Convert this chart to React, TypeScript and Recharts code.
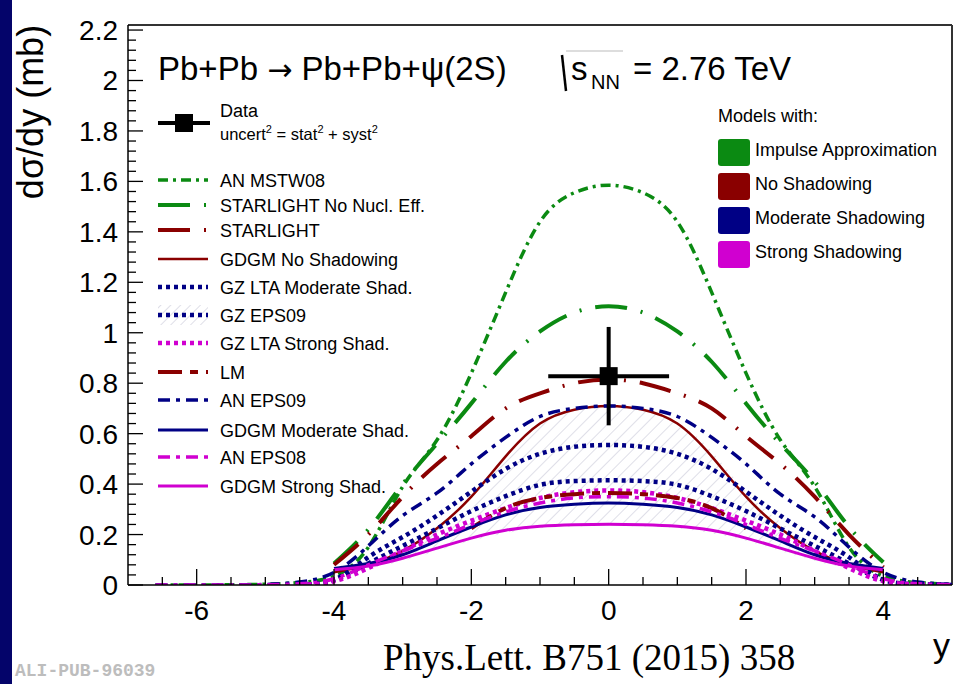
import React from "react";
import { ComposedChart, Line, Area, Scatter, ErrorBar, XAxis, YAxis, ReferenceLine } from "recharts";

const FONT = "'Liberation Sans', Arial, Helvetica, sans-serif";
const GREEN = "#0b8a12";
const RED = "#8a0000";
const NAVY = "#000085";
const MAGENTA = "#d000d0";

const _ = null;

// rapidity grid
const rapidity = [-6.6, -6, -5.5, -5, -4.5, -4, -3.5, -3, -2.5, -2, -1.5, -1, -0.5, 0, 0.5, 1, 1.5, 2, 2.5, 3, 3.5, 4, 4.5, 5];

// dsigma/dy (mb) per model
const anMstw08 = [0, 0, 0.001, 0.003, 0.01, 0.035, 0.15, 0.39, 0.575, 0.84, 1.16, 1.44, 1.555, 1.585, 1.555, 1.44, 1.16, 0.84, 0.575, 0.39, 0.15, 0.035, 0.01, 0.002];
const starlightNoNucl = [_, _, _, _, _, 0.085, 0.22, 0.4, 0.56, 0.72, 0.885, 1.005, 1.08, 1.105, 1.08, 1.005, 0.885, 0.72, 0.56, 0.41, 0.23, 0.09, _, _];
const starlight = [_, _, _, _, _, 0.08, 0.2, 0.35, 0.48, 0.59, 0.7, 0.76, 0.8, 0.815, 0.8, 0.76, 0.7, 0.59, 0.48, 0.35, 0.2, 0.07, _, _];
const gdgmNoShad = [_, _, _, _, _, 0.05, 0.08, 0.135, 0.225, 0.35, 0.51, 0.64, 0.695, 0.71, 0.695, 0.64, 0.51, 0.35, 0.225, 0.135, 0.08, 0.05, _, _];
const gzLtaModerate = [_, _, _, _, 0, 0.02, 0.11, 0.19, 0.275, 0.37, 0.46, 0.52, 0.548, 0.555, 0.548, 0.52, 0.46, 0.37, 0.275, 0.19, 0.11, 0.02, 0.003, 0];
const gzEps09 = [_, _, _, _, 0, 0.02, 0.085, 0.155, 0.224, 0.293, 0.352, 0.397, 0.412, 0.415, 0.412, 0.397, 0.352, 0.293, 0.224, 0.155, 0.085, 0.02, 0.003, 0];
const gzLtaStrong = [_, _, _, _, 0, 0.015, 0.067, 0.135, 0.2, 0.255, 0.305, 0.345, 0.368, 0.375, 0.368, 0.345, 0.305, 0.255, 0.2, 0.135, 0.067, 0.015, 0.003, 0];
const lm = [_, _, _, _, _, _, _, _, _, 0.225, 0.305, 0.345, 0.36, 0.365, 0.36, 0.345, 0.305, 0.225, _, _, _, _, _, _];
const anEps09 = [0, 0, 0, 0.002, 0.012, 0.05, 0.155, 0.275, 0.365, 0.48, 0.585, 0.668, 0.7, 0.71, 0.7, 0.668, 0.585, 0.48, 0.36, 0.27, 0.15, 0.05, 0.012, 0.002];
const gdgmModerate = [_, _, _, _, _, 0.065, 0.085, 0.12, 0.175, 0.23, 0.278, 0.307, 0.32, 0.325, 0.32, 0.307, 0.278, 0.23, 0.175, 0.12, 0.085, 0.065, _, _];
const anEps08 = [0, 0, 0, 0.001, 0.005, 0.025, 0.08, 0.135, 0.185, 0.24, 0.29, 0.325, 0.345, 0.35, 0.345, 0.325, 0.29, 0.24, 0.185, 0.135, 0.08, 0.025, 0.005, 0.001];
const gdgmStrong = [_, _, _, _, _, 0.06, 0.075, 0.106, 0.146, 0.186, 0.217, 0.233, 0.239, 0.241, 0.239, 0.233, 0.217, 0.186, 0.146, 0.106, 0.075, 0.06, _, _];

// GZ EPS09 uncertainty band (hatched)
const bandLow = [_, _, _, _, _, 0.045, 0.065, 0.095, 0.135, 0.175, 0.205, 0.225, 0.232, 0.235, 0.232, 0.225, 0.205, 0.175, 0.135, 0.095, 0.065, 0.045, _, _];
const bandHigh = [_, _, _, _, _, 0.05, 0.085, 0.15, 0.25, 0.37, 0.53, 0.645, 0.697, 0.71, 0.697, 0.645, 0.53, 0.37, 0.25, 0.15, 0.085, 0.05, _, _];

// ALICE measurement
const dataPoint = [{ x: 0, y: 0.828, ex: 0.88, ey: 0.195 }];

const Y_MAJOR = [0, 0.2, 0.4, 0.6, 0.8, 1, 1.2, 1.4, 1.6, 1.8, 2, 2.2];
const X_MAJOR = [-6, -4, -2, 0, 2, 4];

const SERIES = [
  { key: "anMstw08", name: "AN MSTW08", values: anMstw08, color: GREEN, width: 3.5, dash: "10 5 3 5" },
  { key: "starlightNoNucl", name: "STARLIGHT No Nucl. Eff.", values: starlightNoNucl, color: GREEN, width: 4, dash: "32 14 2 14" },
  { key: "starlight", name: "STARLIGHT", values: starlight, color: RED, width: 4, dash: "32 14 2 14" },
  { key: "gdgmNoShad", name: "GDGM No Shadowing", values: gdgmNoShad, color: RED, width: 2.5 },
  { key: "gzLtaModerate", name: "GZ LTA Moderate Shad.", values: gzLtaModerate, color: NAVY, width: 4.5, dash: "4 4" },
  { key: "gzEps09", name: "GZ EPS09", values: gzEps09, color: NAVY, width: 4.5, dash: "4 4", hatch: true },
  { key: "gzLtaStrong", name: "GZ LTA Strong Shad.", values: gzLtaStrong, color: MAGENTA, width: 4.5, dash: "4 4" },
  { key: "lm", name: "LM", values: lm, color: RED, width: 4, dash: "24 8 8 8" },
  { key: "anEps09", name: "AN EPS09", values: anEps09, color: NAVY, width: 3.5, dash: "12 6 4 6" },
  { key: "gdgmModerate", name: "GDGM Moderate Shad.", values: gdgmModerate, color: NAVY, width: 3 },
  { key: "anEps08", name: "AN EPS08", values: anEps08, color: MAGENTA, width: 3.5, dash: "12 6 4 6" },
  { key: "gdgmStrong", name: "GDGM Strong Shad.", values: gdgmStrong, color: MAGENTA, width: 3 },
];

const MODELS = [
  { name: "Impulse Approximation", color: GREEN },
  { name: "No Shadowing", color: RED },
  { name: "Moderate Shadowing", color: NAVY },
  { name: "Strong Shadowing", color: MAGENTA },
];

const table = rapidity.map((x, i) => {
  const row: any = { x };
  SERIES.forEach((s) => (row[s.key] = s.values[i]));
  row.band = bandLow[i] == null ? null : [bandLow[i], bandHigh[i]];
  return row;
});

const yTicks: number[] = [];
Y_MAJOR.forEach((m) => {
  for (let k = 0; k < 5; k++) {
    const v = Math.round((m + k * 0.04) * 100) / 100;
    if (v <= 2.21) yTicks.push(v);
  }
});
const xTicks: number[] = [];
for (let v = -6.5; v <= 4.5; v += 0.5) xTicks.push(v);

const isMajor = (list: number[], v: number) => list.some((m) => Math.abs(m - v) < 1e-6);

const YTick = (props: any) => {
  const { x, y, payload } = props;
  const v = payload.value;
  const major = isMajor(Y_MAJOR, v);
  return (
    <g>
      <line x1={x} x2={x + (major ? 15 : 8)} y1={y} y2={y} stroke="#000" strokeWidth={1.3} />
      {major && (
        <text x={x - 10} y={y} dy={10} textAnchor="end" fontSize={28} fill="#000" fontFamily={FONT}>
          {String(Math.round(v * 10) / 10)}
        </text>
      )}
    </g>
  );
};

const XTick = (props: any) => {
  const { x, y, payload } = props;
  const v = payload.value;
  const major = isMajor(X_MAJOR, v);
  return (
    <g>
      <line x1={x} x2={x} y1={y} y2={y - (major ? 16 : 8)} stroke="#000" strokeWidth={1.3} />
      {major && (
        <text x={x} y={y + 35} textAnchor="middle" fontSize={28} fill="#000" fontFamily={FONT}>
          {String(v)}
        </text>
      )}
    </g>
  );
};

const Square = (props: any) => <rect x={props.cx - 9} y={props.cy - 9} width={18} height={18} fill="#000" />;

function Overlay() {
  const rowY = [180, 205, 230, 259, 287, 315, 343, 372, 400, 430, 457, 486];
  const boxY = [139, 173, 207, 241];
  return (
    <svg width={972} height={684} style={{ position: "absolute", left: 0, top: 0, pointerEvents: "none" }} fontFamily={FONT}>
      {/* y axis title */}
      <text x={43} y={112} transform="rotate(-90 43 112)" textAnchor="middle" fontSize={36} fill="#000">
        dσ/dy (mb)
      </text>

      {/* title */}
      <text x={158} y={80} fontSize={33} fill="#000">
        Pb+Pb <tspan fontFamily="'DejaVu Sans', sans-serif" fontSize={30}>→</tspan> Pb+Pb+ψ(2S)
      </text>
      <path d="M562 55 L566 91" stroke="#000" strokeWidth={2.5} fill="none" />
      <path d="M566 51 L623 51" stroke="#bbb" strokeWidth={1} fill="none" />
      <text x={571} y={80} fontSize={33} fill="#000">s</text>
      <text x={591} y={89} fontSize={20} fill="#000">NN</text>
      <text x={633} y={80} fontSize={33} fill="#000">= 2.76 TeV</text>

      {/* data legend */}
      <line x1={158} x2={210} y1={123} y2={123} stroke="#000" strokeWidth={4} />
      <rect x={175} y={114} width={18} height={18} fill="#000" />
      <text x={220} y={117} fontSize={18} fill="#000">Data</text>
      <text x={220} y={140} fontSize={16.5} fill="#000">
        uncert<tspan fontSize={11} dy={-7}>2</tspan>
        <tspan dy={7}> = stat</tspan>
        <tspan fontSize={11} dy={-7}>2</tspan>
        <tspan dy={7}> + syst</tspan>
        <tspan fontSize={11} dy={-7}>2</tspan>
      </text>

      {/* model legend */}
      {SERIES.map((s, i) => (
        <g key={s.key}>
          {s.hatch && <rect x={158} y={rowY[i] - 10} width={50} height={20} fill="url(#hatchLegend)" />}
          <line x1={158} x2={208} y1={rowY[i]} y2={rowY[i]} stroke={s.color} strokeWidth={s.width} strokeDasharray={s.dash} />
          <text x={220} y={rowY[i] + 7} fontSize={18} fill="#000">{s.name}</text>
        </g>
      ))}

      <text x={718} y={122} fontSize={18} fill="#000">Models with:</text>
      {MODELS.map((m, i) => (
        <g key={m.name}>
          <rect x={718} y={boxY[i]} width={32} height={27} rx={3} fill={m.color} />
          <text x={755} y={boxY[i] + 17} fontSize={18} fill="#000">{m.name}</text>
        </g>
      ))}

      {/* x axis title and refs */}
      <text x={950} y={657} textAnchor="end" fontSize={34} fill="#000">y</text>
      <text x={383} y={670} fontSize={37} fill="#000" fontFamily="'Liberation Serif', 'Times New Roman', serif">
        Phys.Lett. B751 (2015) 358
      </text>
      <text x={15} y={676} fontSize={18} fontWeight="bold" fill="#bdbdbd" fontFamily="'Liberation Mono', 'DejaVu Sans Mono', monospace">
        ALI-PUB-96039
      </text>
    </svg>
  );
}

export default function App() {
  return (
    <div style={{ position: "absolute", left: 0, top: 0, width: 972, height: 684, background: "#fff", overflow: "hidden" }}>
      <svg width={0} height={0} style={{ position: "absolute" }}>
        <defs>
          <pattern id="hatch" patternUnits="userSpaceOnUse" width={9} height={9} patternTransform="rotate(45)">
            <line x1={0} y1={0} x2={0} y2={9} stroke="#c0c0d2" strokeWidth={1} />
          </pattern>
          <pattern id="hatchLegend" patternUnits="userSpaceOnUse" width={7} height={7} patternTransform="rotate(45)">
            <line x1={0} y1={0} x2={0} y2={7} stroke="#c0c0d2" strokeWidth={1} />
          </pattern>
        </defs>
      </svg>
      <div style={{ position: "absolute", left: 0, top: 0, width: 12, height: 684, background: "#04046a" }} />
      <div style={{ position: "absolute", left: 0, top: 0 }}>
        <ComposedChart width={972} height={684} data={table} margin={{ top: 25, right: 20, bottom: 69, left: 68 }}>
          <XAxis
            dataKey="x"
            type="number"
            domain={[-7, 5]}
            allowDataOverflow
            ticks={xTicks}
            interval={0}
            tick={<XTick />}
            tickLine={false}
            tickSize={0}
            tickMargin={0}
            height={30}
            axisLine={{ stroke: "#000", strokeWidth: 1.5 }}
          />
          <YAxis
            type="number"
            domain={[0, 2.22]}
            allowDataOverflow
            ticks={yTicks}
            interval={0}
            tick={<YTick />}
            tickLine={false}
            tickSize={0}
            tickMargin={0}
            width={60}
            axisLine={{ stroke: "#000", strokeWidth: 1.5 }}
          />
          <ReferenceLine y={2.22} stroke="#333" strokeWidth={2} />
          <ReferenceLine x={5} stroke="#333" strokeWidth={2} />
          <Area
            dataKey="band"
            type="natural"
            stroke="none"
            fill="url(#hatch)"
            fillOpacity={1}
            isAnimationActive={false}
            activeDot={false}
          />
          {SERIES.map((s) => (
            <Line
              key={s.key}
              dataKey={s.key}
              type="natural"
              stroke={s.color}
              strokeWidth={s.width}
              strokeDasharray={s.dash}
              dot={false}
              activeDot={false}
              isAnimationActive={false}
            />
          ))}
          <Scatter data={dataPoint} dataKey="y" shape={<Square />} isAnimationActive={false}>
            <ErrorBar dataKey="ex" direction="x" width={0} stroke="#000" strokeWidth={4} isAnimationActive={false} />
            <ErrorBar dataKey="ey" direction="y" width={0} stroke="#000" strokeWidth={4} isAnimationActive={false} />
          </Scatter>
        </ComposedChart>
      </div>
      <Overlay />
    </div>
  );
}
